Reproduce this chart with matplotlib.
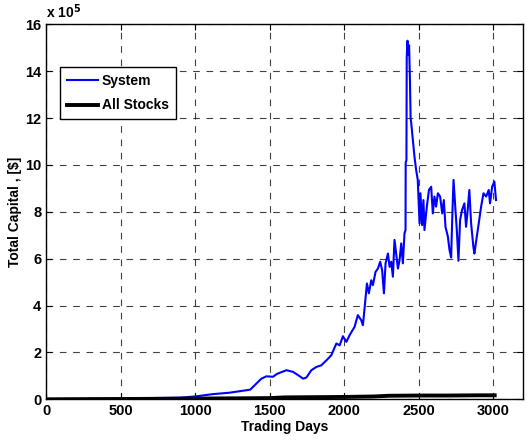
import numpy as np
import matplotlib
matplotlib.use("Agg")
import matplotlib.pyplot as plt

# System capital (units of 1e5 $)
sys_days = [0, 200, 400, 600, 800, 900, 1000, 1120, 1230, 1370, 1400, 1445, 1478,
            1523, 1546, 1568, 1613, 1657, 1691, 1725, 1747, 1780, 1814, 1847, 1881,
            1914, 1948, 1970, 1992, 2015, 2037, 2070, 2092, 2115, 2126, 2137, 2153,
            2166, 2182, 2193, 2211, 2227, 2242, 2255, 2267, 2278, 2294, 2305, 2316,
            2327, 2338, 2349, 2361, 2372, 2383, 2394, 2405, 2412, 2413, 2418, 2420,
            2425, 2430, 2436, 2442, 2446, 2450, 2461, 2472, 2483, 2494, 2506, 2512,
            2523, 2532, 2539, 2555, 2569, 2584, 2595, 2606, 2617, 2629, 2644, 2658,
            2669, 2680, 2696, 2707, 2718, 2725, 2734, 2747, 2756, 2767, 2778, 2791,
            2807, 2818, 2829, 2840, 2852, 2867, 2874, 2890, 2903, 2919, 2935, 2953,
            2970, 2979, 2993, 3008, 3019]
sys_cap = [0.01, 0.015, 0.03, 0.045, 0.06, 0.07, 0.12, 0.22, 0.28, 0.41, 0.6, 0.88, 0.98,
           0.96, 1.07, 1.13, 1.24, 1.17, 1.03, 0.88, 0.93, 1.24, 1.38, 1.45, 1.66,
           1.88, 2.38, 2.3, 2.69, 2.45, 2.74, 3.09, 3.59, 3.37, 3.16, 3.87, 4.94,
           4.52, 5.08, 4.87, 5.44, 5.58, 5.87, 5.51, 4.52, 5.8, 6.22, 5.65, 5.87,
           5.23, 6.8, 6.22, 5.58, 5.94, 6.65, 5.8, 7.08, 7.22, 10.1, 10.2, 14.6,
           15.3, 14.7, 15.1, 13.5, 12.0, 11.8, 11.07, 10.35, 9.79, 9.36, 7.5, 8.79,
           7.43, 8.5, 7.22, 8.22, 8.93, 9.07, 7.93, 8.65, 8.22, 8.79, 8.65, 7.93,
           8.5, 7.36, 6.94, 6.37, 6.05, 7.65, 9.36, 8.07, 7.22, 5.91, 7.65, 8.07,
           8.36, 7.36, 8.07, 8.93, 7.5, 6.51, 6.22, 6.94, 7.5, 8.22, 8.79, 8.65,
           8.93, 8.36, 9.07, 9.29, 8.5]

# All stocks capital (units of 1e5 $)
all_days = [0, 500, 1000, 1500, 1600, 1800, 2000, 2200, 2300, 2500, 2700, 2900, 3010]
all_cap = [0.0, 0.01, 0.03, 0.05, 0.08, 0.09, 0.1, 0.12, 0.15, 0.16, 0.16, 0.17, 0.17]

plt.rcParams['font.family'] = ['Liberation Sans', 'DejaVu Sans']
plt.rcParams['font.weight'] = 'bold'

fig = plt.figure(figsize=(5.27, 4.41), dpi=100)
ax = fig.add_axes([0.0873, 0.0946, 0.9051, 0.8503])

ax.plot(sys_days, np.array(sys_cap) * 1e5, color='#0000ff', lw=1.5, label='System')
ax.plot(all_days, np.array(all_cap) * 1e5, color='black', lw=2.8, label='All Stocks')

ax.set_xlim(0, 3200)
ax.set_ylim(0, 16e5)
ax.set_xticks(np.arange(0, 3001, 500))
ax.set_yticks(np.arange(0, 16.01e5, 2e5))
ax.set_yticklabels([str(v) for v in range(0, 17, 2)])
ax.tick_params(direction='in', length=4, top=True, right=True, labelsize=10.5, width=0.8)
for lbl in ax.get_xticklabels() + ax.get_yticklabels():
    lbl.set_fontweight('bold')
ax.grid(True, color='black', linestyle=(0, (6, 6)), lw=0.8, alpha=0.75)
for s in ax.spines.values():
    s.set_linewidth(1.0)

ax.set_xlabel('Trading Days', fontsize=10, fontweight='bold', labelpad=1)
ax.set_ylabel('Total Capital , [$]', fontsize=10, fontweight='bold', labelpad=2)
ax.text(0.0, 1.008, r'x 10$^{\mathbf{5}}$', transform=ax.transAxes, fontsize=10,
        fontweight='bold', ha='left', va='bottom')

leg = ax.legend(loc='upper left', bbox_to_anchor=(0.03, 0.886),
                prop={'weight': 'bold', 'size': 10}, fancybox=False, framealpha=1,
                edgecolor='black', borderpad=0.5, handlelength=2.2, handletextpad=0.3,
                borderaxespad=0, labelspacing=0.75)
leg.get_frame().set_linewidth(1.0)

fig.savefig('out.png', dpi=100)
